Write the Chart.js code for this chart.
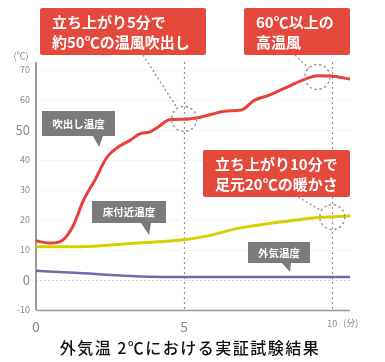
<!DOCTYPE html>
<html><head><meta charset="utf-8">
<script src="https://cdn.jsdelivr.net/npm/chart.js@4/dist/chart.umd.min.js"></script>
<style>html,body{margin:0;padding:0;background:#fff}#wrap{width:385px;height:362px;position:relative}</style>
</head><body><div id="wrap"><canvas id="c" width="385" height="362"></canvas></div>
<script>
// ---- data ----
const outletTimes = [0, 0.5, 0.9, 1.25, 1.6, 2.0, 2.4, 2.8, 3.2, 3.5, 3.85, 4.15, 4.5, 5.0, 5.5, 6.45, 6.95, 7.35, 7.9, 8.5, 9.15, 9.5, 9.95, 10.6];
const outletTemps = [13, 12.3, 13.3, 18, 26.5, 33.5, 41, 44.5, 46.7, 48.7, 49.4, 51.2, 53.4, 53.6, 54.2, 56.3, 56.7, 59.8, 61.7, 64.4, 67.2, 68.1, 68, 67];
const floorTimes = [0, 1.5, 3.2, 4.9, 5.8, 6.8, 7.7, 8.8, 9.6, 10.6];
const floorTemps = [11.1, 11.1, 12.2, 13.3, 14.7, 17.2, 18.6, 20, 20.9, 21.3];
const outsideTimes = [0, 1.3, 3.2, 4.3, 6, 8, 10.6];
const outsideTemps = [3.1, 2.4, 1.3, 1.0, 1.0, 1.0, 1.0];
const seriesNames = ['吹出し温度', '床付近温度', '外気温度'];
const xTickValues = [0, 5, 10];
const yTickValues = [-10, 0, 10, 20, 30, 40, 50, 60, 70];
const yUnit = '(℃)';
const xUnit = '(分)';
const titleText = '外気温 2℃における実証試験結果';
const callouts = [
  {lines: ['立ち上がり5分で', '約50℃の温風吹出し'], at: [5, 53.7]},
  {lines: ['60℃以上の', '高温風'], at: [9.5, 67.7]},
  {lines: ['立ち上がり10分で', '足元20℃の暖かさ'], at: [10, 21]}
];

const toXY = (ts, vs) => ts.map((t, i) => ({x: t, y: vs[i]}));
const JP = '"Noto Sans CJK JP", "Noto Sans", sans-serif';

const deco = {
  id: 'deco',
  beforeDatasetsDraw(chart) {
    const {ctx, scales: {x, y}, chartArea: a} = chart;
    ctx.save();
    ctx.strokeStyle = '#8f8fa8';
    ctx.lineWidth = 1.2;
    ctx.setLineDash([2, 3]);
    [5, 10].forEach(v => {
      const px = Math.round(x.getPixelForValue(v)) + 0.5;
      ctx.beginPath(); ctx.moveTo(px, a.top - 8); ctx.lineTo(px, a.bottom); ctx.stroke();
    });
    ctx.setLineDash([]);
    ctx.strokeStyle = '#666';
    ctx.lineWidth = 1.3;
    ctx.beginPath(); ctx.moveTo(a.left, a.top - 8); ctx.lineTo(a.left, a.bottom); ctx.stroke();
    ctx.strokeStyle = '#999';
    ctx.beginPath(); ctx.moveTo(a.left, a.bottom + 0.5); ctx.lineTo(a.right, a.bottom + 0.5); ctx.stroke();
    ctx.restore();
  },
  afterDatasetsDraw(chart) {
    const {ctx, scales: {x, y}, chartArea: a} = chart;
    ctx.save();
    ctx.fillStyle = '#888';
    ctx.font = '9px ' + JP;
    ctx.textAlign = 'center'; ctx.textBaseline = 'middle';
    ctx.fillText(yUnit, 21, 56);
    ctx.textAlign = 'left';
    ctx.fillText(xUnit, x.getPixelForValue(10) + 11, a.bottom + 13);

    const boxes = [
      {x: 40, y: 8, w: 166, h: 47, from: [143, 55]},
      {x: 244, y: 8, w: 106, h: 47, from: [295, 55]},
      {x: 203, y: 150, w: 147, h: 47, from: [298, 197]}
    ];
    ctx.strokeStyle = '#a88888';
    ctx.lineWidth = 1.3;
    callouts.forEach((c, i) => {
      const cx = x.getPixelForValue(c.at[0]), cy = y.getPixelForValue(c.at[1]);
      const r = 12.5;
      ctx.setLineDash([2.5, 2.5]);
      ctx.beginPath(); ctx.arc(cx, cy, r, 0, Math.PI * 2); ctx.stroke();
      const b = boxes[i];
      const dx = cx - b.from[0], dy = cy - b.from[1];
      const d = Math.hypot(dx, dy);
      ctx.setLineDash([2, 2.5]);
      ctx.beginPath(); ctx.moveTo(b.from[0], b.from[1]);
      ctx.lineTo(cx - dx / d * r, cy - dy / d * r); ctx.stroke();
    });
    ctx.setLineDash([]);
    callouts.forEach((c, i) => {
      const b = boxes[i];
      ctx.fillStyle = '#e5493b';
      ctx.beginPath(); ctx.roundRect(b.x, b.y, b.w, b.h, 2); ctx.fill();
      ctx.fillStyle = '#fff';
      ctx.font = 'bold 15px ' + JP;
      ctx.textAlign = 'left'; ctx.textBaseline = 'middle';
      c.lines.forEach((t, k) => ctx.fillText(t, b.x + 12, b.y + 14 + k * 20));
    });
    const tags = [
      {x: 42, y: 111, w: 73, h: 25, tail: [93, 103, 99, 147]},
      {x: 92, y: 201, w: 74, h: 22, tail: [141, 151, 149, 235]},
      {x: 248, y: 242, w: 62, h: 21, tail: [282, 291, 290, 272]}
    ];
    tags.forEach((g, i) => {
      ctx.fillStyle = '#7b7b7b';
      ctx.fillRect(g.x, g.y, g.w, g.h);
      ctx.beginPath();
      ctx.moveTo(g.tail[0], g.y + g.h); ctx.lineTo(g.tail[1], g.y + g.h); ctx.lineTo(g.tail[2], g.tail[3]);
      ctx.closePath(); ctx.fill();
      ctx.fillStyle = '#fff';
      ctx.font = 'bold 10.5px ' + JP;
      ctx.textAlign = 'center'; ctx.textBaseline = 'middle';
      ctx.fillText(seriesNames[i], g.x + g.w / 2, g.y + g.h / 2 + 0.5);
    });
    ctx.fillStyle = '#111';
    ctx.font = '500 16px ' + JP;
    ctx.textAlign = 'center'; ctx.textBaseline = 'middle';
    if ('letterSpacing' in ctx) ctx.letterSpacing = '1.5px';
    ctx.fillText(titleText, 190, 348);
    ctx.restore();
  }
};

new Chart(document.getElementById('c'), {
  type: 'line',
  data: {
    datasets: [
      {label: seriesNames[0], data: toXY(outletTimes, outletTemps), borderColor: '#e8403a', borderWidth: 3, pointRadius: 0, tension: 0.2, cubicInterpolationMode: 'monotone'},
      {label: seriesNames[1], data: toXY(floorTimes, floorTemps), borderColor: '#d6d000', borderWidth: 3, pointRadius: 0, cubicInterpolationMode: 'monotone'},
      {label: seriesNames[2], data: toXY(outsideTimes, outsideTemps), borderColor: '#7668ad', borderWidth: 2.5, pointRadius: 0, cubicInterpolationMode: 'monotone'}
    ]
  },
  options: {
    responsive: false,
    animation: false,
    layout: {padding: {left: 0, top: 70, right: 35, bottom: 22}},
    plugins: {legend: {display: false}, tooltip: {enabled: false}},
    scales: {
      x: {
        type: 'linear', min: 0, max: 10.6,
        afterBuildTicks: s => { s.ticks = xTickValues.map(v => ({value: v})); },
        afterFit: s => { s.height = 30; },
        grid: {display: false},
        border: {display: false},
        ticks: {
          color: '#888', padding: 0, maxRotation: 0, autoSkip: false,
          font: c => ({family: JP, size: c.tick && c.tick.value === 10 ? 9 : 14}),
          callback: v => String(v)
        }
      },
      y: {
        min: -10, max: 70,
        afterBuildTicks: s => {
          const t = [];
          for (let v = -10; v <= 70; v += 5) t.push({value: v});
          s.ticks = t;
        },
        afterFit: s => { s.width = 36; },
        grid: {
          drawTicks: false,
          color: c => c.tick && c.tick.value === 0 ? '#f2c9d2' : (c.tick && c.tick.value === -10 ? 'rgba(0,0,0,0)' : '#ececec'),
          lineWidth: 1
        },
        border: {display: false, dash: [2, 2]},
        ticks: {
          color: '#888', padding: 6,
          font: c => ({family: JP, size: (c.tick && (c.tick.value === 50 || c.tick.value === 0)) ? 13 : 9}),
          callback: v => yTickValues.includes(v) ? String(v) : ''
        }
      }
    }
  },
  plugins: [deco]
});
</script></body></html>
